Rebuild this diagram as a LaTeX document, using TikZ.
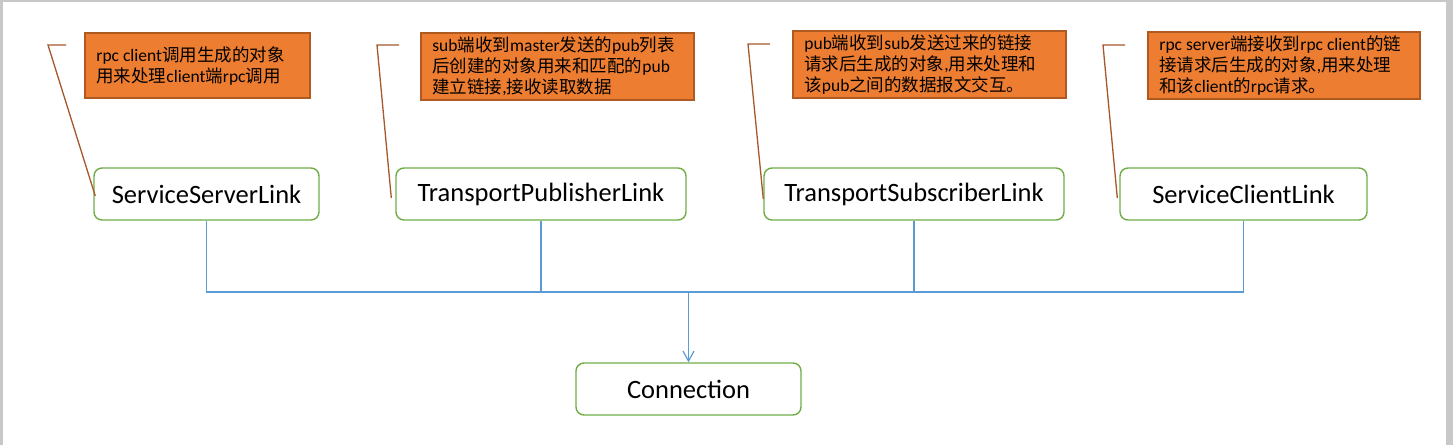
\documentclass[tikz,border=0pt]{standalone}
\usepackage{fontspec}
\setmainfont{Carlito}
\newfontfamily\cjk{Noto Sans CJK SC}
\newcommand\zh[1]{{\cjk #1}}
\usetikzlibrary{arrows.meta}
\definecolor{pagegray}{HTML}{C8C8C8}
\definecolor{boxgreen}{HTML}{70AD47}
\definecolor{calloutfill}{HTML}{ED7D31}
\definecolor{calloutline}{HTML}{AE5A21}
\definecolor{leadcol}{HTML}{A5582A}
\definecolor{conncol}{HTML}{5B9BD5}
\tikzset{
  classbox/.style={draw=boxgreen,line width=1.4pt,rounded corners=8pt,fill=white,minimum height=52pt,inner sep=0pt,font=\fontsize{26.5}{30}\selectfont},
  callout/.style={draw=calloutline,line width=1.6pt,fill=calloutfill,inner sep=0pt},
  callouttext/.style={anchor=west,align=left,inner sep=0pt,font=\fontsize{17.5}{21}\selectfont},
  leader/.style={draw=leadcol,line width=1.3pt},
  conn/.style={draw=conncol,line width=1.2pt},
  connarrow/.style={conn,-{Straight Barb[length=10pt,width=11pt,line width=1.2pt]}}
}
\begin{document}
\begin{tikzpicture}[x=1pt,y=-1pt]
\useasboundingbox (0,0) rectangle (1453,445);
\fill[pagegray] (0,0) rectangle (1453,445);
\fill[white] (3,2) rectangle (1446,445);

% class boxes
\node[classbox,minimum width=225pt] (ssl) at (206.5,194) {ServiceServerLink};
\node[classbox,minimum width=290pt] (tpl) at (541,194) {TransportPublisherLink};
\node[classbox,minimum width=300pt] (tsl) at (914,194) {TransportSubscriberLink};
\node[classbox,minimum width=247pt] (scl) at (1243.5,194) {ServiceClientLink};
\node[classbox,minimum width=225pt] (con) at (688.5,389) {Connection};

% callouts
\node[callout,minimum width=225pt,minimum height=65pt] (c1) at (197.5,65.5) {};
\node[callout,minimum width=273pt,minimum height=67pt] (c2) at (557.5,66.5) {};
\node[callout,minimum width=273pt,minimum height=67pt] (c3) at (929.5,64.5) {};
\node[callout,minimum width=272pt,minimum height=67pt] (c4) at (1284,65.5) {};

\node[callouttext] (t1) at ([xshift=12pt,yshift=-1pt]c1.west) {rpc client\zh{调用生成的对象}\\\zh{用来处理}client\zh{端}rpc\zh{调用}};
\node[callouttext] (t2) at ([xshift=12pt]c2.west) {sub\zh{端收到}master\zh{发送的}pub\zh{列表}\\\zh{后创建的对象用来和匹配的}pub\\\zh{建立链接},\zh{接收读取数据}};
\node[callouttext] (t3) at ([xshift=12pt]c3.west) {pub\zh{端收到}sub\zh{发送过来的链接}\\\zh{请求后生成的对象},\zh{用来处理和}\\\zh{该}pub\zh{之间的数据报文交互。}};
\node[callouttext] (t4) at ([xshift=12pt]c4.west) {rpc server\zh{端接收到}rpc client\zh{的链}\\\zh{接请求后生成的对象},\zh{用来处理}\\\zh{和该}client\zh{的}rpc\zh{请求。}};

% leader lines
\coordinate (l1a) at (66,45);  \coordinate (l1b) at (48,45);
\coordinate (l2a) at (399,45); \coordinate (l2b) at (377,45);
\coordinate (l3a) at (770,44); \coordinate (l3b) at (748,44);
\coordinate (l4a) at (1125,45); \coordinate (l4b) at (1103,45);
\draw[leader] (l1a) -- (l1b) -- ([xshift=2pt,yshift=-2pt]ssl.west);
\draw[leader] (l2a) -- (l2b) -- ([xshift=-4pt,yshift=-4pt]tpl.west);
\draw[leader] (l3a) -- (l3b) -- ([yshift=-5pt]tsl.west);
\draw[leader] (l4a) -- (l4b) -- ([xshift=-2pt,yshift=-4pt]scl.west);

% connectors
\coordinate (bus) at (688.5,292);
\draw[conn] (ssl.south) -- (ssl.south |- bus) -- (scl.south |- bus) -- (scl.south);
\draw[conn] (tpl.south) -- (tpl.south |- bus);
\draw[conn] (tsl.south) -- (tsl.south |- bus);
\draw[connarrow] (bus) -- (con.north);
\end{tikzpicture}
\end{document}
